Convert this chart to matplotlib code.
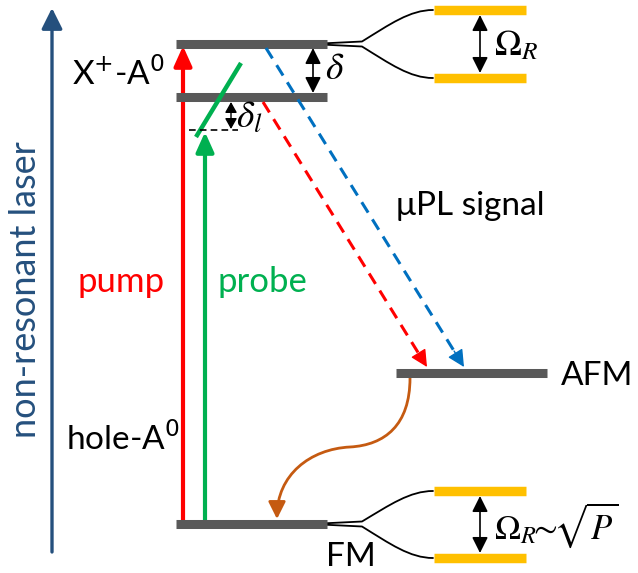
import matplotlib.pyplot as plt
from matplotlib.path import Path
from matplotlib.patches import FancyArrowPatch

plt.rcParams['font.family'] = ['Lato', 'DejaVu Sans']
plt.rcParams['mathtext.fontset'] = 'stix'

# energy levels (canvas coordinates, y grows downward)
level_names = ['X+A0_upper', 'X+A0_lower', 'AFM', 'FM']
level_y = [44, 97, 373, 524]
level_x0 = [176, 176, 396, 176]
level_x1 = [327, 327, 547, 327]

# Rabi-split dressed states next to the upper level and FM
dressed_y = [(10, 78), (491, 558)]
dressed_from = [44, 524]

# transitions
probe_y = 132        # probe detuned below the lower X+-A0 level
pump_x, probe_x = 183, 205

GRAY = '#595959'
GOLD = '#FFC000'
RED = '#FF0000'
GREEN = '#00B050'
BLUE = '#0070C0'
NAVY = '#25507D'
ORANGE = '#C55A11'

fig = plt.figure(figsize=(6.38, 5.73), dpi=100)
ax = fig.add_axes([0, 0, 1, 1])
ax.set_xlim(0, 638)
ax.set_ylim(573, 0)
ax.axis('off')


def arrow(p0, p1, color, lw, style='-|>', scale=14, **kw):
    a = FancyArrowPatch(p0, p1, arrowstyle=style, color=color, lw=lw,
                        mutation_scale=scale, shrinkA=0, shrinkB=0, **kw)
    ax.add_patch(a)


def dashed_arrow(p0, p1, color):
    # dashed shaft with a solid head on the last bit
    f = 0.95
    pm = (p0[0] + f * (p1[0] - p0[0]), p0[1] + f * (p1[1] - p0[1]))
    ax.plot([p0[0], pm[0]], [p0[1], pm[1]], color=color, lw=2.2,
            dashes=(4, 2.6))
    arrow(pm, p1, color, 1.0, style='-|>,head_length=0.8,head_width=0.4', scale=13)


# levels
for y, x0, x1 in zip(level_y, level_x0, level_x1):
    ax.plot([x0, x1], [y, y], color=GRAY, lw=6.5, solid_capstyle='butt')

# splitting into dressed states
for (yt, yb), yc in zip(dressed_y, dressed_from):
    for ye, s in ((yt, -1), (yb, 1)):
        verts = [(327, yc + s * 0.8), (362, yc + s * 2.5),
                 (390, yc + s * 2.5 + (ye - yc - s * 2.5) * 0.55),
                 (410, ye), (433, ye)]
        codes = [Path.MOVETO, Path.LINETO, Path.CURVE4, Path.CURVE4, Path.CURVE4]
        ax.add_patch(FancyArrowPatch(path=Path(verts, codes), arrowstyle='-',
                                     color='black', lw=1.3))
        ax.plot([434, 526], [ye, ye], color=GOLD, lw=6.8, solid_capstyle='butt')
    arrow((480, yt + 5), (480, yb - 5), 'black', 1.2,
          style='<|-|>,head_length=0.8,head_width=0.4', scale=12)

ax.text(494, 45, r'$\Omega_R$', fontsize=26, va='center', ha='left')
ax.text(494, 525, r'$\Omega_R\!\!\sim\!\!\sqrt{P}$', fontsize=25, va='center', ha='left')

# non-resonant excitation
arrow((52, 552), (52, 8), NAVY, 2.4, style='-|>,head_length=0.9,head_width=0.45', scale=14)
ax.text(26, 290, 'non-resonant laser', rotation=90, color=NAVY, fontsize=26,
        ha='center', va='center')

# pump and probe
arrow((pump_x, 520), (pump_x, 46), RED, 3.0, style='-|>,head_length=1.0,head_width=0.45', scale=12)
arrow((probe_x, 520), (probe_x, probe_y), GREEN, 3.0,
      style='-|>,head_length=1.0,head_width=0.45', scale=12)
ax.plot([196, 241], [137, 63], color=GREEN, lw=3.2, solid_capstyle='butt')
ax.plot([189, 238], [130, 130], color='black', lw=1.2, dashes=(4, 2.5))

# detunings
arrow((231, 102), (231, 129), 'black', 1.0, style='<|-|>,head_length=0.8,head_width=0.45', scale=8)
ax.text(236, 117, r'$\delta_l$', fontsize=27, va='center', ha='left')
arrow((313, 48), (313, 93), 'black', 1.2, style='<|-|>,head_length=0.8,head_width=0.4', scale=12)
ax.text(325, 68, r'$\delta$', fontsize=27, va='center', ha='left')

# emission towards AFM
dashed_arrow((263, 102), (427, 367), RED)
dashed_arrow((266, 48), (464, 367), BLUE)

# relaxation AFM -> FM
verts = [(410, 378), (410, 425), (385, 445), (350, 447),
         (310, 449), (277, 475), (277, 519)]
codes = [Path.MOVETO] + [Path.CURVE4] * 6
ax.add_patch(FancyArrowPatch(path=Path(verts, codes), color=ORANGE, lw=2.0,
                             arrowstyle='-|>,head_length=0.8,head_width=0.4',
                             mutation_scale=13))

# labels
ax.text(72, 85, 'X$^{+}$-A$^{0}$', fontsize=24, va='baseline', ha='left',
        math_fontfamily='dejavusans')
ax.text(66, 450, 'hole-A$^{0}$', fontsize=24, va='baseline', ha='left',
        math_fontfamily='dejavusans')
ax.text(77, 292, 'pump', color=RED, fontsize=25, va='baseline', ha='left')
ax.text(217, 292, 'probe', color=GREEN, fontsize=25, va='baseline', ha='left')
ax.text(396, 215, 'μPL signal', fontsize=24, va='baseline', ha='left')
ax.text(561, 385, 'AFM', fontsize=24, va='baseline', ha='left')
ax.text(326, 566, 'FM', fontsize=24, va='baseline', ha='left')

fig.savefig('out.png', dpi=100)
